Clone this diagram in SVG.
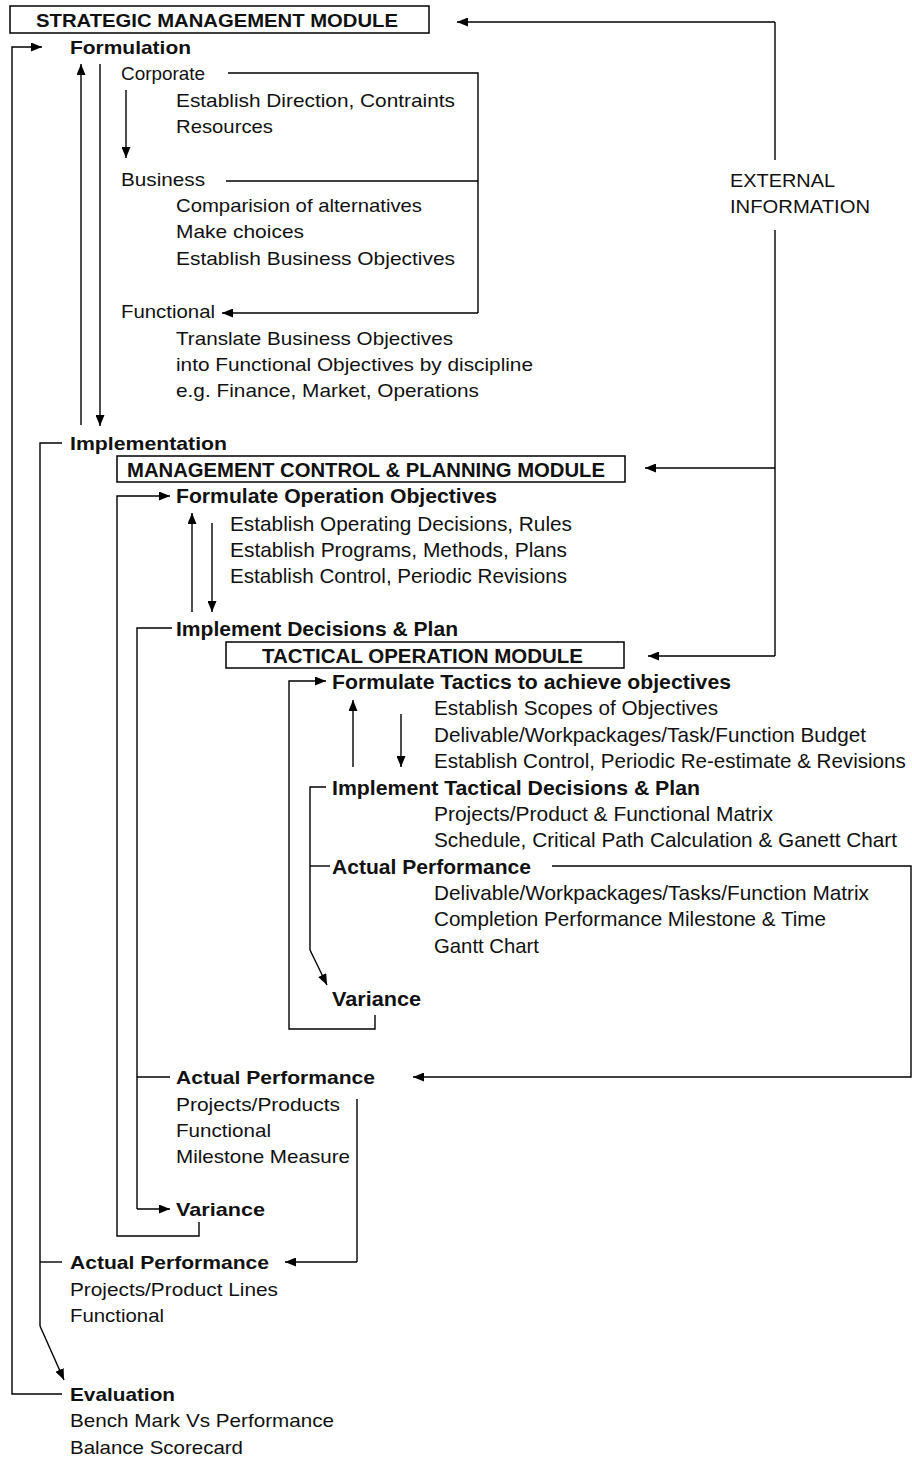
<svg xmlns="http://www.w3.org/2000/svg" width="912" height="1459" viewBox="0 0 912 1459">
  <defs>
    <marker id="arrow" viewBox="0 0 11 9" refX="11" refY="4.5" markerWidth="11" markerHeight="9" markerUnits="userSpaceOnUse" orient="auto">
      <path d="M0,0 L11,4.5 L0,9 z" fill="#000"/>
    </marker>
    <style>
      text { fill: #111; }
      .r  { font-family: "Liberation Sans", Arial, sans-serif; font-size: 19px; }
      .b  { font-family: "Liberation Sans", Arial, sans-serif; font-size: 19px; font-weight: bold; }
      .n  { font-family: "Liberation Sans Narrow", "Liberation Sans", Arial, sans-serif; font-size: 21px; }
      .nb { font-family: "Liberation Sans Narrow", "Liberation Sans", Arial, sans-serif; font-size: 21px; font-weight: bold; }
      .box { fill: #fff; stroke: #000; stroke-width: 1.5; }
      .ln { fill: none; stroke: #000; stroke-width: 1.4; }
      .ar { fill: none; stroke: #000; stroke-width: 1.4; marker-end: url(#arrow); }
    </style>
  </defs>
  <rect width="912" height="1459" fill="#fff"/>

  <!-- connectors -->
  <g id="connectors">
    <!-- evaluation feeds back to formulation -->
    <path class="ar" d="M62,1394 H12 V47 H42"/>
    <!-- implementation spine -->
    <path class="ln" d="M62,443 H40 V1326"/>
    <path class="ln" d="M40,1262 H62"/>
    <path class="ar" d="M40,1326 L64,1380"/>
    <!-- formulation / implementation loop -->
    <path class="ar" d="M81,425 V64"/>
    <path class="ar" d="M100,64 V426"/>
    <!-- corporate to business -->
    <path class="ar" d="M126,90 V158"/>
    <!-- corporate / business to functional -->
    <path class="ln" d="M228,73 H478 V313"/>
    <path class="ln" d="M226,181 H478"/>
    <path class="ar" d="M478,313 H222"/>
    <!-- external information -->
    <path class="ln" d="M775,160 V22"/>
    <path class="ar" d="M775,22 H457"/>
    <path class="ln" d="M775,230 V656"/>
    <path class="ar" d="M775,468 H645"/>
    <path class="ar" d="M775,656 H648"/>
    <!-- management control loop -->
    <path class="ar" d="M199,1222 V1236 H117 V496 H170"/>
    <path class="ar" d="M192,612 V513"/>
    <path class="ar" d="M212,523 V612"/>
    <path class="ln" d="M172,628 H137 V1209"/>
    <path class="ln" d="M137,1077 H170"/>
    <path class="ar" d="M137,1209 H170"/>
    <path class="ln" d="M357,1099 V1262"/>
    <path class="ar" d="M357,1262 H285"/>
    <!-- tactical loop -->
    <path class="ar" d="M375,1015 V1029 H289 V681 H326"/>
    <path class="ar" d="M353,767 V700"/>
    <path class="ar" d="M401,714 V767"/>
    <path class="ln" d="M326,787 H310 V950"/>
    <path class="ln" d="M310,866 H330"/>
    <path class="ar" d="M310,950 L327,985"/>
    <path class="ar" d="M552,866 H911 V1077 H413"/>
  </g>

  <!-- strategic management module -->
  <g id="strategic-module">
    <rect class="box" x="10" y="6" width="419" height="27"/>
    <text class="b" x="36" y="27" textLength="362" lengthAdjust="spacingAndGlyphs">STRATEGIC MANAGEMENT MODULE</text>
  </g>
  <g id="formulation">
    <text class="b" x="70" y="54" textLength="121" lengthAdjust="spacingAndGlyphs">Formulation</text>
  </g>
  <g id="corporate">
    <text class="r" x="121" y="80" textLength="84" lengthAdjust="spacingAndGlyphs">Corporate</text>
    <text class="r" x="176" y="107" textLength="279" lengthAdjust="spacingAndGlyphs">Establish Direction, Contraints</text>
    <text class="r" x="176" y="133" textLength="97" lengthAdjust="spacingAndGlyphs">Resources</text>
  </g>
  <g id="business">
    <text class="r" x="121" y="186" textLength="84" lengthAdjust="spacingAndGlyphs">Business</text>
    <text class="r" x="176" y="212" textLength="246" lengthAdjust="spacingAndGlyphs">Comparision of alternatives</text>
    <text class="r" x="176" y="238" textLength="128" lengthAdjust="spacingAndGlyphs">Make choices</text>
    <text class="r" x="176" y="265" textLength="279" lengthAdjust="spacingAndGlyphs">Establish Business Objectives</text>
  </g>
  <g id="functional">
    <text class="r" x="121" y="318" textLength="94" lengthAdjust="spacingAndGlyphs">Functional</text>
    <text class="r" x="176" y="345" textLength="277" lengthAdjust="spacingAndGlyphs">Translate Business Objectives</text>
    <text class="r" x="176" y="371" textLength="357" lengthAdjust="spacingAndGlyphs">into Functional Objectives by discipline</text>
    <text class="r" x="176" y="397" textLength="303" lengthAdjust="spacingAndGlyphs">e.g. Finance, Market, Operations</text>
  </g>
  <g id="external-information">
    <text class="r" x="730" y="187" textLength="105" lengthAdjust="spacingAndGlyphs">EXTERNAL</text>
    <text class="r" x="730" y="213" textLength="140" lengthAdjust="spacingAndGlyphs">INFORMATION</text>
  </g>
  <g id="implementation">
    <text class="b" x="70" y="450" textLength="157" lengthAdjust="spacingAndGlyphs">Implementation</text>
  </g>

  <!-- management control & planning module -->
  <g id="management-module">
    <rect class="box" x="117" y="456" width="508" height="26"/>
    <text class="nb" x="127" y="477" textLength="478" lengthAdjust="spacingAndGlyphs">MANAGEMENT CONTROL &amp; PLANNING MODULE</text>
  </g>
  <g id="formulate-operation">
    <text class="nb" x="176" y="503" textLength="321" lengthAdjust="spacingAndGlyphs">Formulate Operation Objectives</text>
    <text class="n" x="230" y="531" textLength="342" lengthAdjust="spacingAndGlyphs">Establish Operating Decisions, Rules</text>
    <text class="n" x="230" y="557" textLength="337" lengthAdjust="spacingAndGlyphs">Establish Programs, Methods, Plans</text>
    <text class="n" x="230" y="583" textLength="337" lengthAdjust="spacingAndGlyphs">Establish Control, Periodic Revisions</text>
  </g>
  <g id="implement-decisions">
    <text class="nb" x="176" y="636" textLength="282" lengthAdjust="spacingAndGlyphs">Implement Decisions &amp; Plan</text>
  </g>

  <!-- tactical operation module -->
  <g id="tactical-module">
    <rect class="box" x="226" y="642" width="398" height="26"/>
    <text class="nb" x="262" y="663" textLength="321" lengthAdjust="spacingAndGlyphs">TACTICAL OPERATION MODULE</text>
  </g>
  <g id="formulate-tactics">
    <text class="nb" x="332" y="689" textLength="399" lengthAdjust="spacingAndGlyphs">Formulate Tactics to achieve objectives</text>
    <text class="n" x="434" y="715" textLength="284" lengthAdjust="spacingAndGlyphs">Establish Scopes of Objectives</text>
    <text class="n" x="434" y="742" textLength="432" lengthAdjust="spacingAndGlyphs">Delivable/Workpackages/Task/Function Budget</text>
    <!-- long line: condensed horizontally so it stays inside the page -->
    <text class="n" transform="translate(434,768) scale(0.88,1)" x="0" y="0" textLength="536" lengthAdjust="spacingAndGlyphs">Establish Control, Periodic Re-estimate &amp; Revisions</text>
  </g>
  <g id="implement-tactical">
    <text class="nb" x="332" y="795" textLength="368" lengthAdjust="spacingAndGlyphs">Implement Tactical Decisions &amp; Plan</text>
    <text class="n" x="434" y="821" textLength="339" lengthAdjust="spacingAndGlyphs">Projects/Product &amp; Functional Matrix</text>
    <text class="n" x="434" y="847" textLength="463" lengthAdjust="spacingAndGlyphs">Schedule, Critical Path Calculation &amp; Ganett Chart</text>
  </g>
  <g id="tactical-performance">
    <text class="nb" x="332" y="874" textLength="199" lengthAdjust="spacingAndGlyphs">Actual Performance</text>
    <text class="n" x="434" y="900" textLength="435" lengthAdjust="spacingAndGlyphs">Delivable/Workpackages/Tasks/Function Matrix</text>
    <text class="n" x="434" y="926" textLength="392" lengthAdjust="spacingAndGlyphs">Completion Performance Milestone &amp; Time</text>
    <text class="n" x="434" y="953" textLength="105" lengthAdjust="spacingAndGlyphs">Gantt Chart</text>
  </g>
  <g id="tactical-variance">
    <text class="nb" x="332" y="1006" textLength="89" lengthAdjust="spacingAndGlyphs">Variance</text>
  </g>

  <!-- management control results -->
  <g id="management-performance">
    <text class="b" x="176" y="1084" textLength="199" lengthAdjust="spacingAndGlyphs">Actual Performance</text>
    <text class="r" x="176" y="1111" textLength="164" lengthAdjust="spacingAndGlyphs">Projects/Products</text>
    <text class="r" x="176" y="1137" textLength="95" lengthAdjust="spacingAndGlyphs">Functional</text>
    <text class="r" x="176" y="1163" textLength="174" lengthAdjust="spacingAndGlyphs">Milestone Measure</text>
  </g>
  <g id="management-variance">
    <text class="b" x="176" y="1216" textLength="89" lengthAdjust="spacingAndGlyphs">Variance</text>
  </g>

  <!-- strategic results -->
  <g id="strategic-performance">
    <text class="b" x="70" y="1269" textLength="199" lengthAdjust="spacingAndGlyphs">Actual Performance</text>
    <text class="r" x="70" y="1296" textLength="208" lengthAdjust="spacingAndGlyphs">Projects/Product Lines</text>
    <text class="r" x="70" y="1322" textLength="94" lengthAdjust="spacingAndGlyphs">Functional</text>
  </g>
  <g id="evaluation">
    <text class="b" x="70" y="1401" textLength="105" lengthAdjust="spacingAndGlyphs">Evaluation</text>
    <text class="r" x="70" y="1427" textLength="264" lengthAdjust="spacingAndGlyphs">Bench Mark Vs Performance</text>
    <text class="r" x="70" y="1454" textLength="173" lengthAdjust="spacingAndGlyphs">Balance Scorecard</text>
  </g>
</svg>
